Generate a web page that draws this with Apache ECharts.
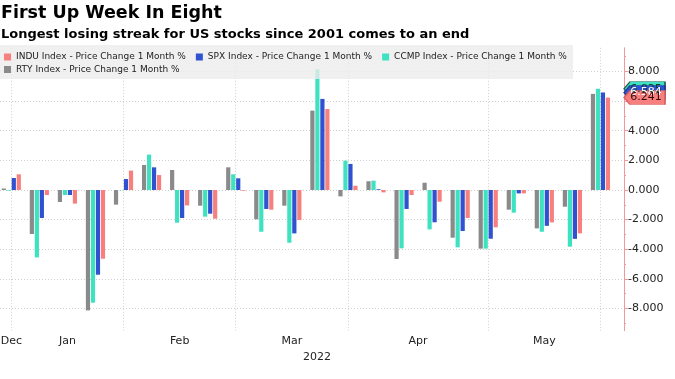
<!DOCTYPE html>
<html>
<head>
<meta charset="utf-8">
<script src="https://cdn.jsdelivr.net/npm/echarts@6/dist/echarts.min.js"></script>
<style>
html,body{margin:0;padding:0;background:#fff;}
#c{width:675px;height:379px;}
</style>
</head>
<body>
<div id="c"></div>
<script>
// Week-ending dates (Fridays)
const weeks = ['2021-12-31','2022-01-07','2022-01-14','2022-01-21','2022-01-28','2022-02-04','2022-02-11','2022-02-18','2022-02-25','2022-03-04','2022-03-11','2022-03-18','2022-03-25','2022-04-01','2022-04-08','2022-04-14','2022-04-22','2022-04-29','2022-05-06','2022-05-13','2022-05-20','2022-05-27'];
// Weekly % change values
const rty  = [0.10, -2.97, -0.81, -8.13, -0.99, 1.69, 1.35, -1.06, 1.53, -1.98, -1.06, 5.36, -0.43, 0.59, -4.66, 0.49, -3.22, -3.96, -1.33, -2.59, -1.13, 6.49];
const ccmp = [-0.05, -4.55, -0.34, -7.61, -0.02, 2.39, -2.21, -1.80, 1.06, -2.82, -3.56, 8.15, 1.98, 0.63, -3.94, -2.66, -3.87, -3.96, -1.53, -2.82, -3.83, 6.835];
const spx  = [0.81, -1.89, -0.34, -5.72, 0.74, 1.53, -1.89, -1.60, 0.79, -1.28, -2.93, 6.15, 1.76, 0.05, -1.28, -2.18, -2.77, -3.29, -0.23, -2.42, -3.30, 6.584];
const indu = [1.06, -0.34, -0.92, -4.64, 1.31, 1.01, -1.04, -1.94, -0.05, -1.33, -2.03, 5.47, 0.29, -0.16, -0.34, -0.79, -1.89, -2.52, -0.23, -2.19, -2.93, 6.241];
// Month labels and the week index of each month's last week
const monthLabels = ['Dec','Jan','Feb','Mar','Apr','May'];
const monthEndIdx = [0, 4, 8, 12, 17, 21];
const yearLabel = '2022';
const yTicks = [-8,-6,-4,-2,0,2,4,6,8];
const yMinorTicks = [-9,-7,-5,-3,-1,1,3,5,7,9];

const names = {
  indu: 'INDU Index - Price Change 1 Month %',
  spx: 'SPX Index - Price Change 1 Month %',
  ccmp: 'CCMP Index - Price Change 1 Month %',
  rty: 'RTY Index - Price Change 1 Month %'
};
const colors = {rty:'#8a8a8a', ccmp:'#3ee2c0', spx:'#2f52d0', indu:'#f7807f'};

// label positions: midpoint between previous month end and this month end (Dec at first week)
const monthLabelPos = monthEndIdx.map((e,i)=> i===0 ? e : (monthEndIdx[i-1]+e)/2);

const XMIN = -0.403, XMAX = 21.84;
const FONT = 'DejaVu Sans';
const BAR_W = 4.2, BAR_STEP = 5; // px

// slot: position of the bar in its group (0..3); markPoint on bar series is shifted by the bar offset
function mk(key, values, slot, withTag, tagText, tagBorder){
  const s = {
    name: names[key],
    type: 'bar',
    data: values.map((v,i)=>[i,v]),
    barWidth: BAR_W,
    barGap: '19%',
    itemStyle: {color: colors[key]},
    emphasis: {disabled: true},
    animation: false,
    z: 2
  };
  if (withTag) {
    const last = values[values.length-1];
    const shift = (slot - 1.5) * BAR_STEP;
    s.markPoint = {
      silent: true,
      animation: false,
      symbol: 'path://M0,7 L6,0 L41,0 L41,14 L6,14 Z',
      symbolSize: [41,14],
      symbolKeepAspect: false,
      symbolOffset: [20.5 - shift, 0],
      itemStyle: {color: colors[key], borderColor: tagBorder, borderWidth: 1},
      label: {show: true, position: 'inside', offset: [1.5,0], color: tagText, fontSize: 11, fontFamily: FONT,
        formatter: (p)=> Number(p.value).toFixed(3)},
      data: [{coord: [XMAX, last], value: last}]
    };
  }
  return s;
}

const chart = echarts.init(document.getElementById('c'), null, {renderer:'canvas'});
chart.setOption({
  animation: false,
  backgroundColor: '#fff',
  title: [
    {text: 'First Up Week In Eight', left: 1, top: 4, padding: 0,
      textStyle: {fontFamily: FONT, fontWeight: 'bold', fontSize: 17.5, color: '#000'}},
    {text: 'Longest losing streak for US stocks since 2001 comes to an end', left: 1, top: 28, padding: 0,
      textStyle: {fontFamily: FONT, fontWeight: 'bold', fontSize: 13, color: '#000'}}
  ],
  graphic: [{
    type: 'rect', left: 0, top: 45, z: 10, silent: true,
    shape: {width: 573, height: 34},
    style: {fill: 'rgba(236,236,236,0.8)'}
  }],
  legend: [
    {data: [names.indu, names.spx, names.ccmp], left: 4, top: 52.5, padding: 0, itemGap: 10,
      itemWidth: 7, itemHeight: 7, icon: 'rect', selectedMode: false, z: 20,
      textStyle: {fontFamily: FONT, fontSize: 9, color: '#222'}},
    {data: [names.rty], left: 4, top: 65, padding: 0, itemGap: 10,
      itemWidth: 7, itemHeight: 7, icon: 'rect', selectedMode: false, z: 20,
      textStyle: {fontFamily: FONT, fontSize: 9, color: '#222'}}
  ],
  grid: {left: 0, right: 51, top: 47.8, bottom: 48.3, containLabel: false, outerBoundsMode: 'none'},
  xAxis: {
    type: 'value', min: XMIN, max: XMAX,
    axisLine: {show: false, onZero: false},
    axisTick: {show: false, customValues: monthEndIdx},
    splitLine: {show: true, lineStyle: {color: '#cfcfcf', type: [1,2], width: 1}},
    axisLabel: {
      customValues: monthLabelPos,
      margin: 5,
      fontFamily: FONT, fontSize: 11, color: '#222',
      formatter: (v)=> {
        const i = monthLabelPos.findIndex(p=>Math.abs(p-v)<1e-6);
        return i>=0 ? monthLabels[i] : '';
      }
    },
    name: yearLabel, nameLocation: 'middle', nameGap: 19.5,
    nameTextStyle: {fontFamily: FONT, fontSize: 11, color: '#222', padding: [0,0,0,10]}
  },
  yAxis: [{
    type: 'value', position: 'right', min: -9.5, max: 9.6,
    axisLine: {show: true, onZero: false, lineStyle: {color: '#ee9a9a', width: 1}},
    axisTick: {show: true, inside: false, length: 4, customValues: yTicks, lineStyle: {color: '#ee9a9a'}},
    axisLabel: {customValues: yTicks, margin: 4, align: 'left', fontFamily: FONT, fontSize: 11, color: '#222',
      formatter: (v)=> Number(v).toFixed(3)},
    splitLine: {show: true, lineStyle: {color: '#cfcfcf', type: [1,2], width: 1}}
  },{
    type: 'value', position: 'right', offset: 0, min: -9.5, max: 9.6,
    axisLine: {show: false, onZero: false},
    axisTick: {show: true, inside: false, length: 2, customValues: yMinorTicks, lineStyle: {color: '#ee9a9a'}},
    axisLabel: {show: false},
    splitLine: {show: false}
  }],
  series: [
    mk('rty', rty, 0, false),
    mk('ccmp', ccmp, 1, true, '#0b3b33', '#1f5f55'),
    mk('spx', spx, 2, true, '#ffffff', '#1d3a9e'),
    mk('indu', indu, 3, true, '#3a0a0a', '#d86060')
  ]
});
</script>
</body>
</html>
